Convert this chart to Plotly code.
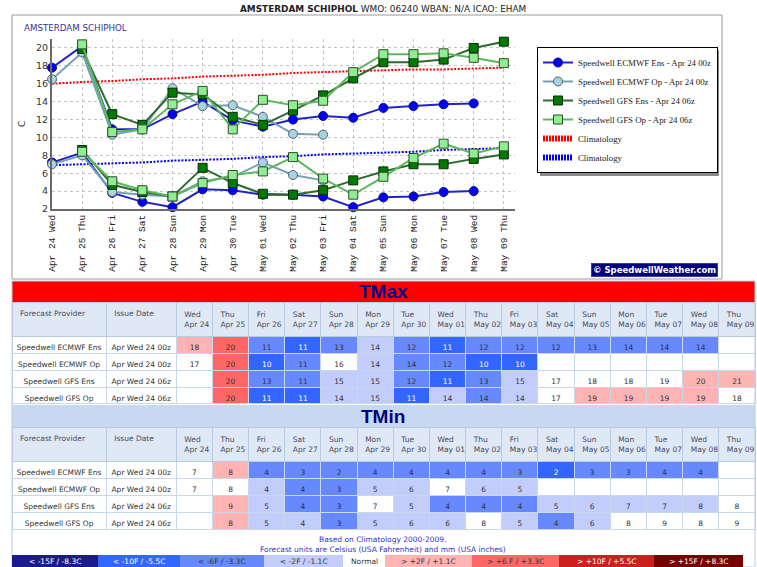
import plotly.graph_objects as go

W, H = 757, 567

# ---------------- data ----------------
dates = ["Apr 24", "Apr 25", "Apr 26", "Apr 27", "Apr 28", "Apr 29", "Apr 30", "May 01",
         "May 02", "May 03", "May 04", "May 05", "May 06", "May 07", "May 08", "May 09"]
weekdays = ["Wed", "Thu", "Fri", "Sat", "Sun", "Mon", "Tue", "Wed",
            "Thu", "Fri", "Sat", "Sun", "Mon", "Tue", "Wed", "Thu"]

# chart values (deg C)
ecmwf_ens_max = [17.8, 20.2, 10.9, 10.9, 12.6, 14.0, 11.9, 11.2, 12.0, 12.4, 12.2, 13.3, 13.5, 13.7, 13.8, None]
ecmwf_op_max = [16.5, 19.5, 10.3, 10.9, 15.5, 13.5, 13.6, 12.3, 10.4, 10.3, None, None, None, None, None, None]
gfs_ens_max = [None, 19.9, 12.6, 11.4, 15.0, 14.8, 12.3, 11.4, 13.0, 14.7, 16.6, 18.4, 18.4, 18.7, 20.0, 20.7]
gfs_op_max = [None, 20.4, 10.6, 10.9, 13.7, 15.2, 10.9, 14.2, 13.6, 14.1, 17.3, 19.3, 19.3, 19.4, 18.9, 18.3]

ecmwf_ens_min = [7.2, 8.3, 3.8, 2.8, 2.2, 4.2, 4.1, 3.6, 3.6, 3.4, 2.2, 3.3, 3.4, 3.9, 4.0, None]
ecmwf_op_min = [7.0, 8.0, 3.9, 3.6, 3.4, 5.1, 5.6, 7.2, 5.8, 5.2, None, None, None, None, None, None]
gfs_ens_min = [None, 8.6, 4.7, 3.9, 3.4, 6.6, 4.9, 3.7, 3.6, 4.1, 5.2, 6.2, 7.0, 7.0, 7.6, 8.1]
gfs_op_min = [None, 8.4, 5.1, 4.1, 3.4, 4.9, 5.8, 6.2, 7.8, 5.4, 3.6, 5.6, 7.7, 9.3, 8.2, 9.0]

clim_max = [16.0, 16.2, 16.3, 16.5, 16.6, 16.8, 16.9, 17.0, 17.2, 17.3, 17.4, 17.5, 17.6, 17.6, 17.7, 17.8]
clim_min = [6.9, 7.0, 7.1, 7.2, 7.4, 7.5, 7.6, 7.8, 7.9, 8.1, 8.2, 8.3, 8.4, 8.6, 8.7, 8.8]

# table values (rounded) and anomaly classes (-3..+2)
providers = ["Speedwell ECMWF Ens", "Speedwell ECMWF Op", "Speedwell GFS Ens", "Speedwell GFS Op"]
issue_dates = ["Apr Wed 24 00z", "Apr Wed 24 00z", "Apr Wed 24 06z", "Apr Wed 24 06z"]

tmax_ecmwf_ens = [18, 20, 11, 11, 13, 14, 12, 11, 12, 12, 12, 13, 14, 14, 14, None]
tmax_ecmwf_op = [17, 20, 10, 11, 16, 14, 14, 12, 10, 10, None, None, None, None, None, None]
tmax_gfs_ens = [None, 20, 13, 11, 15, 15, 12, 11, 13, 15, 17, 18, 18, 19, 20, 21]
tmax_gfs_op = [None, 20, 11, 11, 14, 15, 11, 14, 14, 14, 17, 19, 19, 19, 19, 18]

tmax_cls_ecmwf_ens = [1, 2, -2, -3, -2, -1, -2, -3, -2, -2, -2, -2, -2, -2, -2, 0]
tmax_cls_ecmwf_op = [0, 2, -3, -2, 0, -1, -2, -2, -3, -3, 0, 0, 0, 0, 0, 0]
tmax_cls_gfs_ens = [0, 2, -2, -2, -1, -1, -2, -3, -2, -1, 0, 0, 0, 0, 1, 1]
tmax_cls_gfs_op = [0, 2, -3, -3, -1, -1, -3, -1, -2, -1, 0, 1, 1, 1, 1, 0]

tmin_ecmwf_ens = [7, 8, 4, 3, 2, 4, 4, 4, 4, 3, 2, 3, 3, 4, 4, None]
tmin_ecmwf_op = [7, 8, 4, 4, 3, 5, 6, 7, 6, 5, None, None, None, None, None, None]
tmin_gfs_ens = [None, 9, 5, 4, 3, 7, 5, 4, 4, 4, 5, 6, 7, 7, 8, 8]
tmin_gfs_op = [None, 8, 5, 4, 3, 5, 6, 6, 8, 5, 4, 6, 8, 9, 8, 9]

tmin_cls_ecmwf_ens = [0, 1, -2, -2, -2, -2, -2, -2, -2, -2, -3, -2, -2, -2, -2, 0]
tmin_cls_ecmwf_op = [0, 0, -1, -2, -2, -1, -1, 0, -1, -1, 0, 0, 0, 0, 0, 0]
tmin_cls_gfs_ens = [0, 1, -1, -2, -2, 0, -1, -2, -2, -2, -1, -1, -1, -1, -1, 0]
tmin_cls_gfs_op = [0, 1, -1, -1, -2, -1, -1, -1, 0, -1, -2, -1, 0, 0, 0, 0]

key_labels = ["< -15F / -8.3C", "< -10F / -5.5C", "< -6F / -3.3C", "< -2F / -1.1C", "Normal",
              "> +2F / +1.1C", "> +6 F / +3.3C", "> +10F / +5.5C", "> +15F / +8.3C"]
key_classes = [-4, -3, -2, -1, 0, 1, 2, 3, 4]

# ---------------- styles ----------------
CLS_FILL = {-4: "#1b1b8e", -3: "#3366ff", -2: "#6689ff", -1: "#c3cdfb", 0: "#ffffff",
            1: "#ffb3b3", 2: "#ff6666", 3: "#cc1f1f", 4: "#780000"}
CLS_TEXT = {-4: "#ffffff", -3: "#ffffff", -2: "#333333", -1: "#333333", 0: "#333333",
            1: "#333333", 2: "#333333", 3: "#ffffff", 4: "#ffffff"}
KEY_WIDTHS = [86, 82, 84, 79, 42, 87, 87, 95, 89]
NB = "\u00a0"


def px(x):
    return x / W


def py(y):
    return 1 - y / H


idx = list(range(len(dates)))
fig = go.Figure()

# climatology (drawn first, behind)
fig.add_trace(go.Scatter(x=idx, y=clim_max, mode="lines", line=dict(color="#ff0000", width=2, dash="2px,1.5px"),
                         showlegend=False, hoverinfo="skip"))
fig.add_trace(go.Scatter(x=idx, y=clim_min, mode="lines", line=dict(color="#0000ff", width=2, dash="2px,1.5px"),
                         showlegend=False, hoverinfo="skip"))

series = [
    ("Speedwell ECMWF Ens - Apr 24 00z", ecmwf_ens_max, ecmwf_ens_min, "#2323c8", "circle", "#0000ff", "#10106a"),
    ("Speedwell ECMWF Op - Apr 24 00z", ecmwf_op_max, ecmwf_op_min, "#74a2b4", "circle", "#a9d3e3", "#4d6670"),
    ("Speedwell GFS Ens - Apr 24 06z", gfs_ens_max, gfs_ens_min, "#2e6a2e", "square", "#007a00", "#0b2a0b"),
    ("Speedwell GFS Op - Apr 24 06z", gfs_op_max, gfs_op_min, "#5cb85c", "square", "#90ee90", "#2d4d2d"),
]
for name, mx, mn, lc, sym, mfill, mline in series:
    fig.add_trace(go.Scatter(
        x=idx + [None] + idx, y=mx + [None] + mn, mode="lines+markers", name=name,
        line=dict(color=lc, width=2), connectgaps=False, cliponaxis=False,
        marker=dict(symbol=sym, size=9, color=mfill, line=dict(color=mline, width=1)),
    ))

# legend-only climatology entries (thick dotted swatches)
fig.add_trace(go.Scatter(x=[None], y=[None], mode="lines", name="Climatology",
                         line=dict(color="#ff0000", width=6, dash="2px,1px")))
fig.add_trace(go.Scatter(x=[None], y=[None], mode="lines", name="Climatology",
                         line=dict(color="#0000ff", width=6, dash="2px,1px")))


# ---------------- tables ----------------
def nb(s):
    return s.replace(" ", NB)


def make_table(rows, classes, y_top, y_bot, header_h, cell_h):
    header_vals = [nb("Forecast Provider"), nb("Issue Date")] + [f"{w}<br>{nb(d)}" for w, d in zip(weekdays, dates)]
    cols = [[nb(p) for p in providers], [nb(d) for d in issue_dates]]
    fills = [["#ffffff"] * 4, ["#ffffff"] * 4]
    fcols = [["#333333"] * 4, ["#333333"] * 4]
    for j in range(len(dates)):
        cols.append(["" if r[j] is None else str(r[j]) for r in rows])
        fills.append([CLS_FILL[c[j]] for c in classes])
        fcols.append([CLS_TEXT[c[j]] for c in classes])
    return go.Table(
        domain=dict(x=[px(12), px(755)], y=[py(y_bot), py(y_top)]),
        columnwidth=[94, 70] + [36.1] * len(dates),
        header=dict(values=header_vals, align="left", height=header_h,
                    fill_color="#dfe8f5", line=dict(color="#b9cbe3", width=1),
                    font=dict(family="DejaVu Sans", size=7.5, color="#4a4a5a")),
        cells=dict(values=cols, align="center", height=cell_h,
                   fill_color=fills, line=dict(color="#c8d7ec", width=1),
                   font=dict(family="DejaVu Sans", size=7.5, color=fcols)),
    )


fig.add_trace(make_table([tmax_ecmwf_ens, tmax_ecmwf_op, tmax_gfs_ens, tmax_gfs_op],
                         [tmax_cls_ecmwf_ens, tmax_cls_ecmwf_op, tmax_cls_gfs_ens, tmax_cls_gfs_op],
                         302, 406, 30, 16.8))
fig.add_trace(make_table([tmin_ecmwf_ens, tmin_ecmwf_op, tmin_gfs_ens, tmin_gfs_op],
                         [tmin_cls_ecmwf_ens, tmin_cls_ecmwf_op, tmin_cls_gfs_ens, tmin_cls_gfs_op],
                         427, 533, 31, 17))

# ---------------- decorations ----------------
shapes = [
    dict(type="rect", xref="paper", yref="paper", x0=px(12), x1=px(722), y0=py(279), y1=py(15),
         line=dict(color="#9a9a9a", width=1), fillcolor="rgba(0,0,0,0)", layer="below"),
    dict(type="rect", xref="paper", yref="paper", x0=px(540), x1=px(719), y0=py(176), y1=py(50),
         line=dict(width=0), fillcolor="#8a8a8a"),
    dict(type="rect", xref="paper", yref="paper", x0=px(12), x1=px(755), y0=py(302), y1=py(281),
         line=dict(width=0), fillcolor="#ff0000"),
    dict(type="rect", xref="paper", yref="paper", x0=px(12), x1=px(755), y0=py(427), y1=py(405),
         line=dict(width=0), fillcolor="#c6d9f0"),
    dict(type="rect", xref="paper", yref="paper", x0=px(12), x1=px(755), y0=py(567), y1=py(281),
         line=dict(color="#b9cbe3", width=1), fillcolor="rgba(0,0,0,0)"),
]


def ann(x, y, text, font, **kw):
    d = dict(x=px(x), y=py(y), xref="paper", yref="paper", showarrow=False,
             xanchor="center", yanchor="middle", text=text, font=font)
    d.update(kw)
    return d


annotations = [
    ann(383, 9, "<b>AMSTERDAM SCHIPHOL</b> WMO: 06240 WBAN: N/A ICAO: EHAM",
        dict(family="DejaVu Sans", size=8.9, color="#222222")),
    ann(22, 28, "AMSTERDAM SCHIPHOL", dict(family="DejaVu Sans", size=8.7, color="#333399"), xanchor="left"),
    ann(22, 124, "C", dict(family="DejaVu Sans", size=9, color="#333333"), textangle=-90),
    ann(654, 269.5, "<b>© SpeedwellWeather.com</b>", dict(family="DejaVu Sans", size=8.5, color="#ffffff"),
        bgcolor="#000080", bordercolor="#3a3aa0", borderwidth=1, borderpad=1),
    ann(383, 291.5, "<b>TMax</b>", dict(family="Liberation Sans", size=19, color="#00008b")),
    ann(383, 416, "<b>TMin</b>", dict(family="Liberation Sans", size=19, color="#00007a")),
    ann(383, 539.5, "Based on Climatology 2000-2009.", dict(family="DejaVu Sans", size=7.5, color="#3333cc")),
    ann(383, 549.5, "Forecast units are Celsius (USA Fahrenheit) and mm (USA inches)",
        dict(family="DejaVu Sans", size=7.5, color="#3333cc")),
]

# colour key boxes
x0 = 12
for lab, cls, wdt in zip(key_labels, key_classes, KEY_WIDTHS):
    shapes.append(dict(type="rect", xref="paper", yref="paper", x0=px(x0), x1=px(x0 + wdt),
                       y0=py(567), y1=py(555), line=dict(width=0), fillcolor=CLS_FILL[cls]))
    annotations.append(ann(x0 + wdt / 2, 561, lab, dict(family="DejaVu Sans", size=7.5, color=CLS_TEXT[cls])))
    x0 += wdt

fig.update_layout(
    width=W, height=H, margin=dict(l=0, r=0, t=0, b=0, autoexpand=False),
    paper_bgcolor="#ffffff", plot_bgcolor="#ffffff",
    showlegend=True,
    legend=dict(x=px(537), y=py(47), xanchor="left", yanchor="top",
                bgcolor="#ffffff", bordercolor="#000000", borderwidth=1,
                font=dict(family="Liberation Serif", size=8.8, color="#222222"),
                itemwidth=30, tracegroupgap=0),
    xaxis=dict(domain=[px(52), px(515)], range=[0, 15.37], tickmode="array", tickvals=idx,
               ticktext=[f"{d} {w}" for d, w in zip(dates, weekdays)], tickangle=-90,
               tickfont=dict(family="Liberation Mono", size=9.5, color="#222222"),
               showline=True, linecolor="#6a6a6a", linewidth=2, showgrid=True,
               gridcolor="#c4c4c4", griddash="dot", zeroline=False, ticks=""),
    yaxis=dict(domain=[py(209), py(39)], range=[2, 21], tick0=2, dtick=2,
               tickfont=dict(family="DejaVu Sans", size=9.5, color="#333333"),
               showline=True, linecolor="#6a6a6a", linewidth=2, showgrid=True,
               gridcolor="#c4c4c4", griddash="dot", zeroline=False, ticks=""),
    shapes=shapes, annotations=annotations,
)

fig.write_html("out.html", config={"displayModeBar": False},
               post_script="document.body.style.margin='0px';document.body.style.padding='0px';")
